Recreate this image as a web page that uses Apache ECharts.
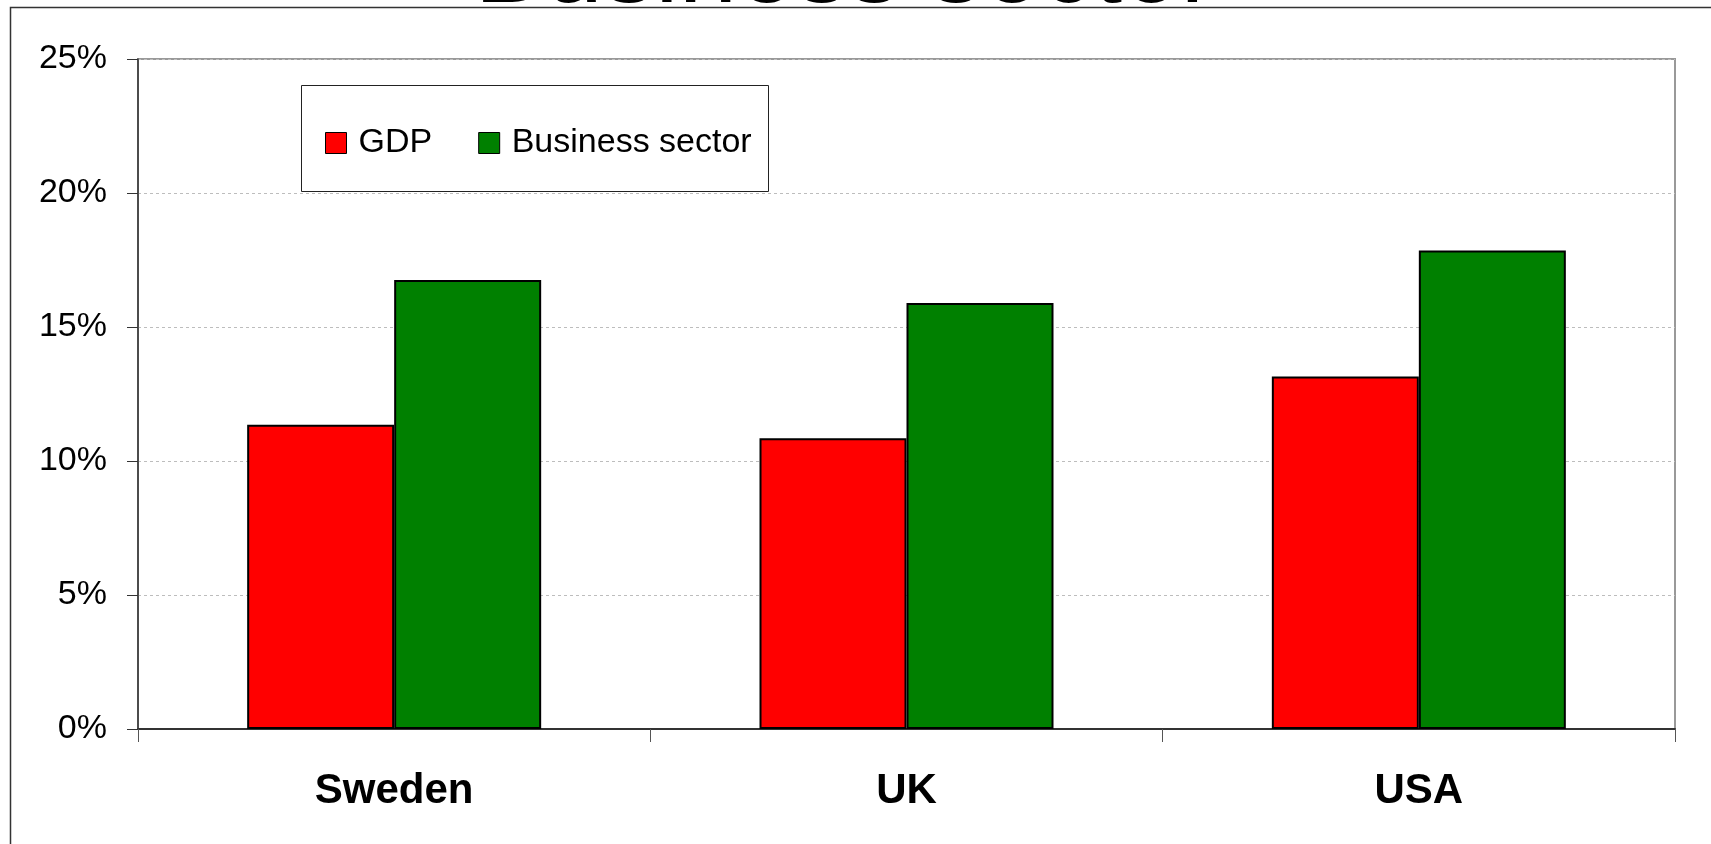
<!DOCTYPE html>
<html>
<head>
<meta charset="utf-8">
<script src="https://cdn.jsdelivr.net/npm/echarts@6/dist/echarts.min.js"></script>
<style>
  html, body { margin: 0; padding: 0; background: #ffffff; }
  #chart { width: 1711px; height: 844px; }
</style>
</head>
<body>
<div id="chart"></div>
<script>
// Countries on the category axis
const categories = ['Sweden', 'UK', 'USA'];
// Share (%) for each series
const gdpValues = [11.35, 10.85, 13.15];
const businessValues = [16.75, 15.9, 17.85];
// Value axis range and step
const yMin = 0;
const yMax = 25;
const yStep = 5;
const titleText = 'Business sector';

const FONT = 'Liberation Sans, Arial, sans-serif';

const chart = echarts.init(document.getElementById('chart'), null, { renderer: 'canvas' });

chart.setOption({
  backgroundColor: '#ffffff',
  animation: false,
  grid: {
    left: 138, right: 36, top: 59, bottom: 115,
    show: true,
    borderColor: '#999999',
    borderWidth: 2,
    containLabel: false
  },
  legend: {
    left: 320,
    top: 121,
    z: 20,
    itemWidth: 21,
    itemHeight: 21,
    itemGap: 46,
    icon: 'rect',
    itemStyle: { borderColor: '#000000', borderWidth: 1 },
    textStyle: { fontFamily: FONT, fontSize: 34, color: '#000000', padding: [0, 0, 0, 7] },
    data: ['GDP', 'Business sector']
  },
  xAxis: {
    type: 'category',
    data: categories,
    boundaryGap: true,
    axisLine: { show: true, lineStyle: { color: '#333333', width: 2 } },
    axisTick: { show: true, length: 13, lineStyle: { color: '#555555', width: 1 } },
    axisLabel: { fontFamily: FONT, fontSize: 42, fontWeight: 'bold', color: '#000000', margin: 41 },
    splitLine: { show: false }
  },
  yAxis: {
    type: 'value',
    min: yMin,
    max: yMax,
    interval: yStep,
    axisLine: { show: true, lineStyle: { color: '#333333', width: 1.5 } },
    axisTick: { show: true, length: 11, lineStyle: { color: '#333333', width: 1 } },
    axisLabel: { fontFamily: FONT, fontSize: 34, color: '#000000', margin: 31, formatter: '{value}%' },
    splitLine: { show: true, lineStyle: { color: '#bdbdbd', width: 1, type: [3, 3] } }
  },
  series: [
    {
      name: 'GDP',
      type: 'bar',
      data: gdpValues,
      barWidth: 147,
      barGap: '0%',
      itemStyle: { color: '#ff0000', borderColor: '#000000', borderWidth: 2 }
    },
    {
      name: 'Business sector',
      type: 'bar',
      data: businessValues,
      barWidth: 147,
      barGap: '0%',
      itemStyle: { color: '#008000', borderColor: '#000000', borderWidth: 2 }
    }
  ],
  graphic: [
    // outer frame (left and top edges)
    {
      type: 'rect',
      z: 100,
      shape: { x: 10.5, y: 7.5, width: 1800, height: 1000 },
      style: { fill: 'none', stroke: '#333333', lineWidth: 1.5 }
    },
    // legend box, drawn beneath the legend items
    {
      type: 'rect',
      z: 2,
      shape: { x: 301.5, y: 85.5, width: 467, height: 106 },
      style: { fill: '#ffffff', stroke: '#222222', lineWidth: 1 }
    },
    // large heading running off the top edge
    {
      type: 'text',
      z: 90,
      x: 845,
      y: -27,
      style: {
        text: titleText,
        fontFamily: FONT,
        fontSize: 105,
        fill: '#000000',
        align: 'center',
        verticalAlign: 'middle'
      }
    }
  ]
});
</script>
</body>
</html>
